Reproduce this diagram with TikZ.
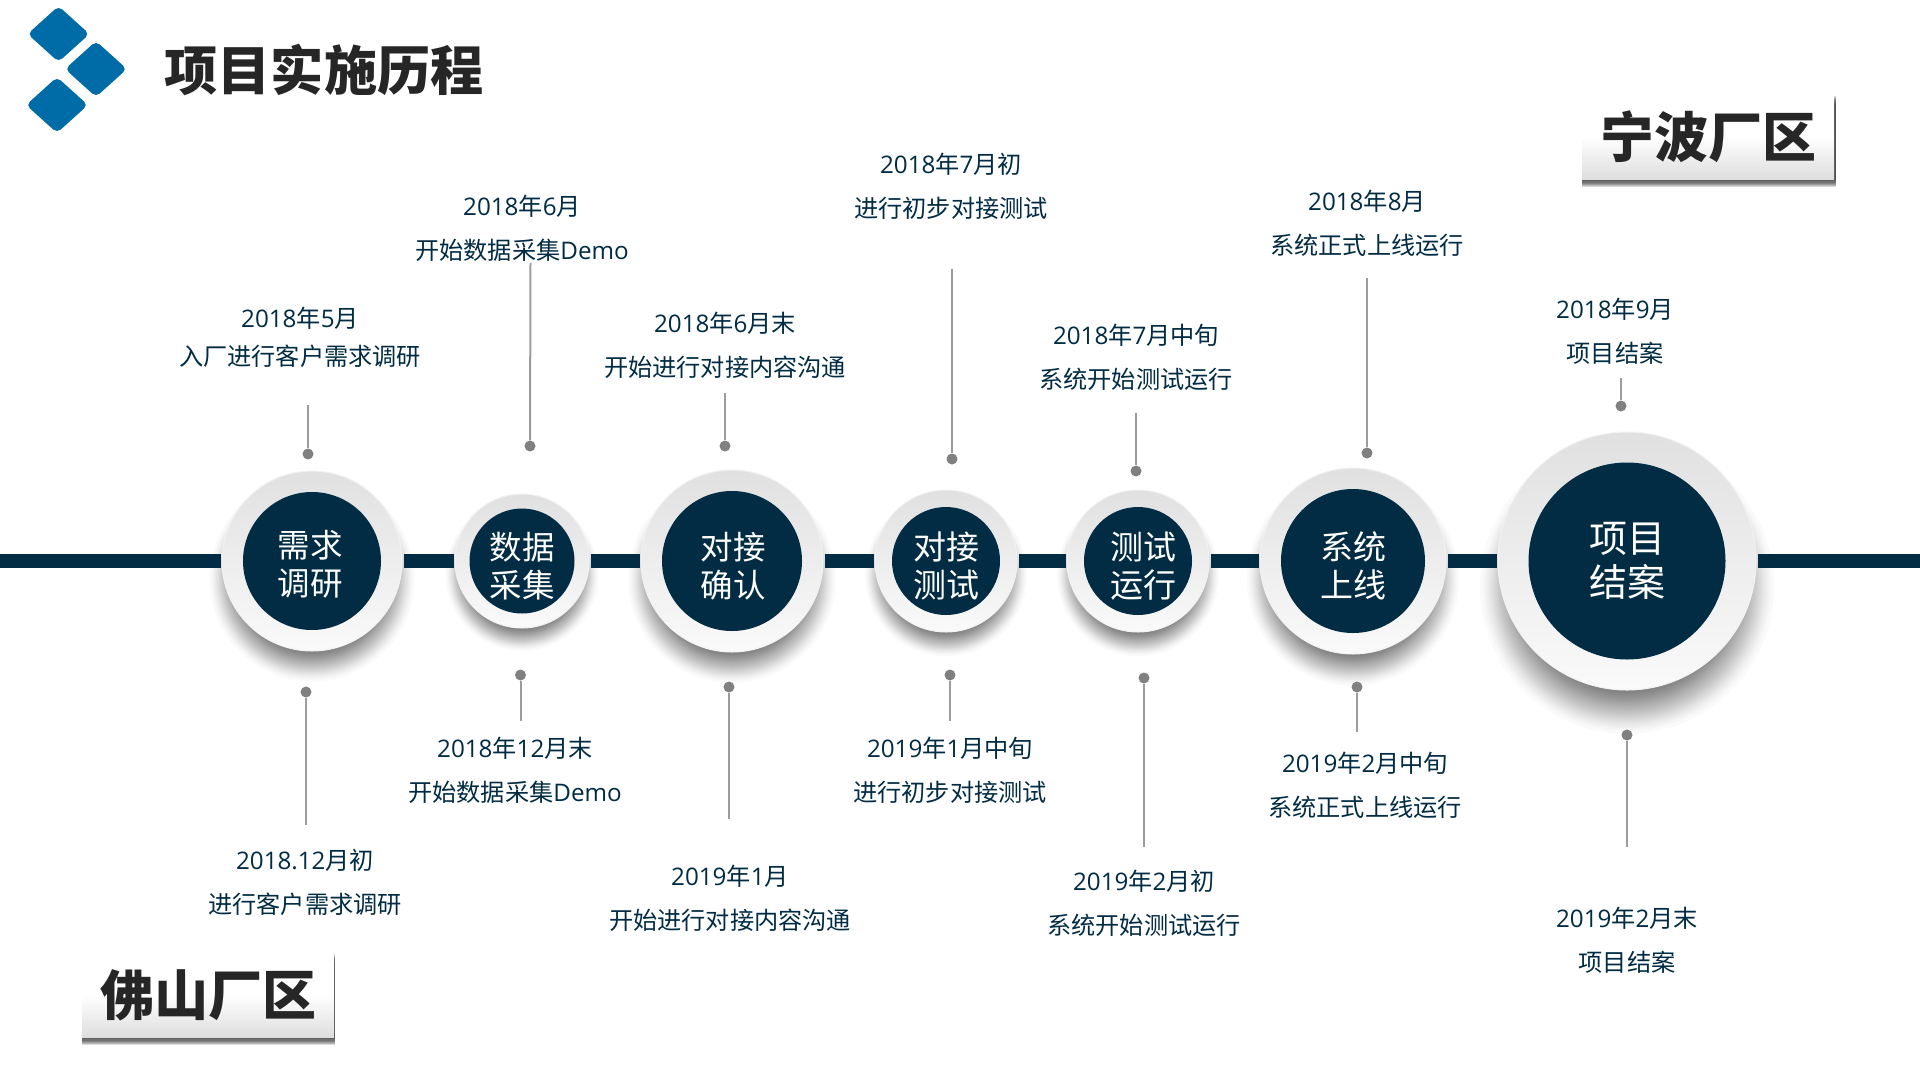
\documentclass[tikz,border=0pt]{standalone}
\usepackage{fontspec}
\setmainfont{Noto Sans CJK SC}
\newfontfamily\latfont{Open Sans}
\newcommand{\lat}[1]{{\latfont #1}}
\usetikzlibrary{shapes.geometric,shadows}
\definecolor{hubnavy}{HTML}{012C44}
\definecolor{logoblue}{HTML}{006CA7}
\definecolor{titleink}{HTML}{262626}
\definecolor{stemgrey}{HTML}{9C9C9C}
\definecolor{dotgrey}{HTML}{808080}
\tikzset{
  logotile/.style={diamond,aspect=1.1,fill=logoblue,rounded corners=5,inner sep=0,minimum width=62,minimum height=56},
  hubring/.style={circle,inner sep=0,outer sep=1.5,top color=black!12,bottom color=black!2,draw=black!5,line width=1},
  hubcore/.style={circle,inner sep=0,fill=hubnavy},
  hubtext/.style={text=white,align=center,inner sep=0},
  spine/.style={hubnavy,line width=14},
  stem/.style={stemgrey,line width=2},
  stemdot/.style={circle,fill=dotgrey,inner sep=0,minimum size=11},
  tag/.style={text=hubnavy,align=center,font=\fontsize{24.2}{43.8}\selectfont},
  boxshade/.style={drop shadow={shadow xshift=.6pt,shadow yshift=-#1,shadow scale=1.007,fill=black,opacity=.15}},
  plantbox/.style={minimum width=252,minimum height=84,inner sep=0,top color=white,bottom color=black!13,middle color=white,
    boxshade=1pt,boxshade=2pt,boxshade=3.2pt,boxshade=4.4pt,boxshade=5.6pt,boxshade=6.8pt,boxshade=8pt,
    font=\fontsize{54}{60}\selectfont\bfseries,text=titleink}
}
\begin{document}
\begin{tikzpicture}[x=1pt,y=-1pt]
  \newcommand{\spiney}{561}
  \useasboundingbox (0,0) rectangle (1920,1080);
  \fill[white] (0,0) rectangle (1920,1080);

  \node[logotile] (logoa) at (58.5,34) {};
  \node[logotile] (logob) at (96,69) {};
  \node[logotile] (logoc) at (57,105) {};
  \node[anchor=west,text=titleink,font=\fontsize{53.2}{60}\selectfont\bfseries] (title) at (161,70) {项目实施历程};

  \node[plantbox] (ningbo) at (1708,137) {宁波厂区};
  \node[plantbox] (foshan) at (208,995) {佛山厂区};

  \foreach \hubname/\hubx/\outr/\innr/\hubfs/\hubls/\dx/\dy/\txt in {
    hubA/312/90/69/32.5/38/-2/3/{需求\\调研},
    hubB/522/67/52.5/32.5/38/0/5/{数据\\采集},
    hubC/732/91/70/32.5/38/1/5/{对接\\确认},
    hubD/946/71/54/33/38/0/5/{对接\\测试},
    hubE/1138/71/54/33/38/5/5/{测试\\运行},
    hubF/1353/93/72/33/38/0/5/{系统\\上线},
    hubG/1627/129/98.5/38/44/0/0/{项目\\结案}}{
    \foreach \k in {0,...,29}
      \fill[black,opacity=.018] (\hubx,\spiney+.2*\outr) circle ({\outr*(1.14-.33*(\k/30)^.75)});
    \node[hubring,minimum size=2*\outr] (\hubname) at (\hubx,\spiney) {};
    \node[hubcore,minimum size=2*\innr] (\hubname core) at (\hubname) {};
    \node[hubtext,font=\fontsize{\hubfs}{\hubls}\selectfont] (\hubname text) at (\hubx+\dx,\spiney+\dy) {\txt};
  }

  \coordinate (leadin) at (0,\spiney);
  \coordinate (leadout) at (1920,\spiney);
  \draw[spine] (leadin) -- (hubA) (hubA) -- (hubB) (hubB) -- (hubC) (hubC) -- (hubD)
  (hubD) -- (hubE) (hubE) -- (hubF) (hubF) -- (hubG) (hubG) -- (leadout);

  \foreach \stemname/\xa/\ya/\xb/\yb in {
    A/308/405/308/454, B/530.5/263/530/446, C/725/393/725/446, D/952/269/952/459,
    E/1136/413/1136/471, F/1367/278/1367/453, G/1621/378/1621/406,
    a/306/825/306/692, b/520.5/721/520.5/675, c/729/819/729/687, d/950/721/950/675,
    e/1144/847/1144/678, f/1357/732/1357/687, g/1627/847/1627/735}{
    \coordinate (tip\stemname) at (\xa,\ya);
    \node[stemdot] (dot\stemname) at (\xb,\yb) {};
    \draw[stem] (tip\stemname) -- (dot\stemname);
  }

  \foreach \tagname/\tagx/\tagy/\txt in {
    A/300/337/{\lat{2018}年\lat{5}月\\[-6pt]入厂进行客户需求调研},
    B/522/228/{\lat{2018}年\lat{6}月\\开始数据采集\lat{Demo}},
    C/725/345/{\lat{2018}年\lat{6}月末\\开始进行对接内容沟通},
    D/951/186/{\lat{2018}年\lat{7}月初\\进行初步对接测试},
    E/1136/357/{\lat{2018}年\lat{7}月中旬\\系统开始测试运行},
    F/1367/223/{\lat{2018}年\lat{8}月\\系统正式上线运行},
    G/1615/331/{\lat{2018}年\lat{9}月\\项目结案},
    a/305/882/{\lat{2018.12}月初\\进行客户需求调研},
    b/515/770/{\lat{2018}年\lat{12}月末\\开始数据采集\lat{Demo}},
    c/730/898/{\lat{2019}年\lat{1}月\\开始进行对接内容沟通},
    d/950/770/{\lat{2019}年\lat{1}月中旬\\进行初步对接测试},
    e/1144/903/{\lat{2019}年\lat{2}月初\\系统开始测试运行},
    f/1365/785/{\lat{2019}年\lat{2}月中旬\\系统正式上线运行},
    g/1627/940/{\lat{2019}年\lat{2}月末\\项目结案}}{
    \node[tag] (tag\tagname) at (\tagx,\tagy) {\txt};
  }
\end{tikzpicture}
\end{document}
